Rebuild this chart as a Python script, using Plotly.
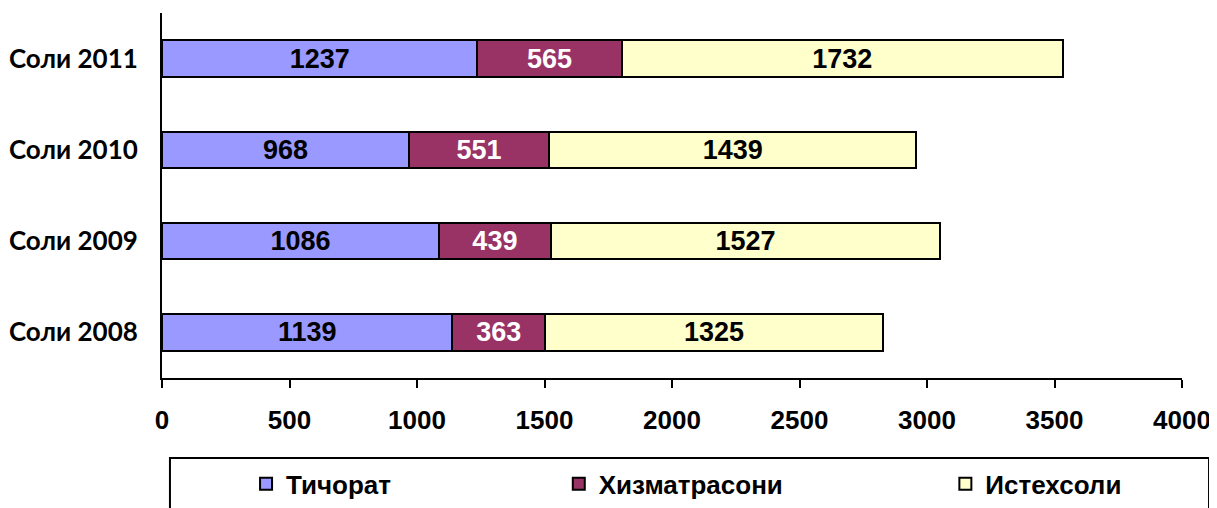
import plotly.graph_objects as go

categories = ["Соли 2008", "Соли 2009", "Соли 2010", "Соли 2011"]
series_names = ["Тичорат", "Хизматрасони", "Истехсоли"]
tichorat = [1139, 1086, 968, 1237]
khizmat = [363, 439, 551, 565]
istehsol = [1325, 1527, 1439, 1732]
x_ticks = [0, 500, 1000, 1500, 2000, 2500, 3000, 3500, 4000]

colors = ["#9999FF", "#993366", "#FFFFCC"]
text_colors = ["black", "white", "black"]
values = [tichorat, khizmat, istehsol]
legend_ids = ["legend", "legend2", "legend3"]

fig = go.Figure()
for name, vals, col, tcol, lg in zip(series_names, values, colors, text_colors, legend_ids):
    fig.add_trace(go.Bar(
        y=categories, x=vals, name=name, orientation="h",
        marker=dict(color=col, line=dict(color="black", width=2)),
        text=[str(v) for v in vals], textposition="inside",
        insidetextanchor="middle",
        textfont=dict(family="Liberation Sans, Arial", size=27, color=tcol, weight="bold"),
        textangle=0, constraintext="none",
        legend=lg, showlegend=True,
    ))

legend_common = dict(
    orientation="h", yanchor="middle", y=-0.29, xanchor="left",
    xref="paper", yref="paper",
    font=dict(family="Liberation Sans, Arial", size=26, color="black", weight="bold"),
    bgcolor="rgba(0,0,0,0)", itemwidth=30, tracegroupgap=0, visible=True,
)
fig.update_layout(
    barmode="stack", bargap=0.6,
    width=1209, height=500,
    margin=dict(l=154, r=35, t=5, b=130, autoexpand=False),
    plot_bgcolor="white", paper_bgcolor="white",
    uniformtext=dict(minsize=10, mode="show"),
    showlegend=True,
    legend=dict(x=0.0824, **legend_common),
    legend2=dict(x=0.389, **legend_common),
    legend3=dict(x=0.768, **legend_common),
    xaxis=dict(
        range=[0, 4000], tickvals=x_ticks, ticktext=[str(t) for t in x_ticks],
        showgrid=False, zeroline=False, showline=True, linecolor="black", linewidth=2,
        ticks="outside", ticklen=8, tickwidth=2, tickcolor="black",
        ticklabelstandoff=10,
        tickfont=dict(family="Liberation Sans, Arial", size=26, color="black", weight="bold"),
    ),
    yaxis=dict(
        categoryorder="array", categoryarray=categories,
        showgrid=False, zeroline=False, showline=True, linecolor="black", linewidth=2,
        ticks="", ticklabelstandoff=17,
        tickfont=dict(family="Lato, Open Sans", size=26, color="black", weight="bold"),
    ),
    shapes=[dict(type="rect", xref="paper", yref="paper",
                 x0=0.0078, x1=1.0265, y0=-0.219, y1=-0.6,
                 line=dict(color="black", width=2), fillcolor="rgba(0,0,0,0)")],
)

fig.write_html("out.html")
